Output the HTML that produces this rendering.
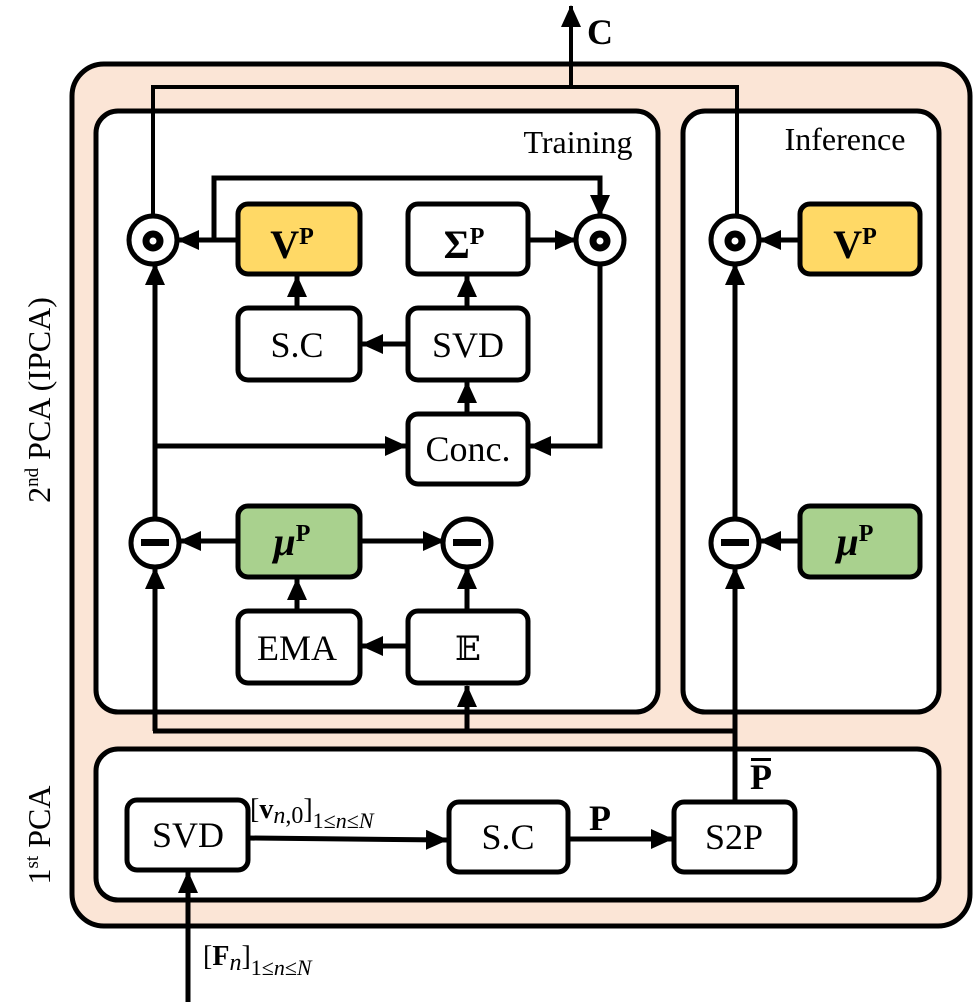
<!DOCTYPE html>
<html><head><meta charset="utf-8"><style>body{margin:0;background:#fff}svg{display:block}</style></head><body>
<svg width="975" height="1002" viewBox="0 0 975 1002" xmlns="http://www.w3.org/2000/svg" font-family="Liberation Serif, serif">
<defs>
<marker id="a" markerWidth="22" markerHeight="20" refX="21" refY="10" orient="auto" markerUnits="userSpaceOnUse" viewBox="0 0 22 20"><path d="M0,0 L22,10 L0,20 z" fill="#000"/></marker>
</defs>
<rect x="72" y="64" width="898" height="862" rx="32" fill="#fbe5d6" stroke="#000" stroke-width="5"/>
<rect x="96" y="111" width="562" height="601" rx="22" fill="#fff" stroke="#000" stroke-width="5"/>
<rect x="683" y="111" width="256" height="601" rx="22" fill="#fff" stroke="#000" stroke-width="5"/>
<rect x="96" y="749" width="843" height="151" rx="22" fill="#fff" stroke="#000" stroke-width="5"/>
<text x="578" y="153" font-size="32" text-anchor="middle">Training</text>
<text x="845" y="150" font-size="32" text-anchor="middle">Inference</text>
<text transform="translate(50,400) rotate(-90)" font-size="32" text-anchor="middle">2<tspan font-size="19" dy="-12">nd</tspan><tspan dy="12"> PCA (IPCA)</tspan></text>
<text transform="translate(50,835) rotate(-90)" font-size="32" text-anchor="middle">1<tspan font-size="19" dy="-12">st</tspan><tspan dy="12"> PCA</tspan></text>
<g fill="none" stroke="#000">
<polyline points="153,218 153,87 737,87 737,218" stroke-width="4"/>
<line x1="571" y1="87" x2="571" y2="6" stroke-width="4" marker-end="url(#a)"/>
<g stroke-width="5">
<line x1="238" y1="240" x2="178" y2="240" marker-end="url(#a)"/>
<polyline points="214,240 214,178 600,178 600,216" marker-end="url(#a)"/>
<line x1="528" y1="240" x2="576" y2="240" marker-end="url(#a)"/>
<polyline points="600,262 600,446 530,446" marker-end="url(#a)"/>
<line x1="155" y1="520" x2="155" y2="264" marker-end="url(#a)"/>
<line x1="155" y1="446" x2="406" y2="446" marker-end="url(#a)"/>
<line x1="297" y1="307" x2="297" y2="276" marker-end="url(#a)"/>
<line x1="408" y1="344" x2="362" y2="344" marker-end="url(#a)"/>
<line x1="467" y1="307" x2="467" y2="276" marker-end="url(#a)"/>
<line x1="467" y1="413" x2="467" y2="382" marker-end="url(#a)"/>
<line x1="238" y1="541" x2="180" y2="541" marker-end="url(#a)"/>
<line x1="360" y1="541" x2="444" y2="541" marker-end="url(#a)"/>
<line x1="297" y1="610" x2="297" y2="579" marker-end="url(#a)"/>
<line x1="408" y1="646" x2="362" y2="646" marker-end="url(#a)"/>
<line x1="467" y1="610" x2="467" y2="568" marker-end="url(#a)"/>
<polyline points="155,731 155,568" marker-end="url(#a)"/>
<line x1="153" y1="731" x2="737" y2="731"/>
<line x1="467" y1="731" x2="467" y2="686" marker-end="url(#a)"/>
<line x1="735" y1="802" x2="735" y2="568" marker-end="url(#a)"/>
<line x1="735" y1="520" x2="735" y2="264" marker-end="url(#a)"/>
<line x1="800" y1="240" x2="760" y2="240" marker-end="url(#a)"/>
<line x1="800" y1="541" x2="760" y2="541" marker-end="url(#a)"/>
<line x1="248" y1="838" x2="447" y2="840" marker-end="url(#a)"/>
<line x1="568" y1="839" x2="672" y2="839" marker-end="url(#a)"/>
<line x1="188" y1="1002" x2="188" y2="872" marker-end="url(#a)"/>
</g>
<g stroke-width="5">
<rect x="238" y="204" width="122" height="70" rx="10" fill="#ffd966"/>
<rect x="408" y="204" width="120" height="70" rx="10" fill="#fff"/>
<rect x="238" y="308" width="122" height="72" rx="10" fill="#fff"/>
<rect x="408" y="308" width="120" height="72" rx="10" fill="#fff"/>
<rect x="408" y="414" width="120" height="70" rx="10" fill="#fff"/>
<rect x="238" y="506" width="122" height="71" rx="10" fill="#a9d18e"/>
<rect x="238" y="611" width="122" height="72" rx="10" fill="#fff"/>
<rect x="408" y="611" width="120" height="72" rx="10" fill="#fff"/>
<rect x="800" y="204" width="120" height="70" rx="10" fill="#ffd966"/>
<rect x="800" y="506" width="120" height="71" rx="10" fill="#a9d18e"/>
<rect x="127" y="800" width="121" height="70" rx="10" fill="#fff"/>
<rect x="449" y="802" width="119" height="70" rx="10" fill="#fff"/>
<rect x="674" y="802" width="121" height="70" rx="10" fill="#fff"/>
<circle cx="153" cy="240" r="24" fill="#fff"/>
<circle cx="600" cy="240" r="24" fill="#fff"/>
<circle cx="735" cy="240" r="24" fill="#fff"/>
<circle cx="153" cy="241" r="7" fill="#fff" stroke-width="7"/>
<circle cx="600" cy="241" r="7" fill="#fff" stroke-width="7"/>
<circle cx="735" cy="241" r="7" fill="#fff" stroke-width="7"/>
<circle cx="155" cy="543" r="24" fill="#fff"/>
<circle cx="467" cy="543" r="24" fill="#fff"/>
<circle cx="735" cy="543" r="24" fill="#fff"/>
</g>
</g>
<g fill="#000">
<rect x="141" y="539" width="28" height="7"/>
<rect x="453" y="539" width="28" height="7"/>
<rect x="721" y="539" width="28" height="7"/>
</g>
<g font-size="36" text-anchor="middle">
<text x="292" y="258" font-weight="bold" font-size="40">V<tspan font-size="24" dy="-14">P</tspan></text>
<text x="464" y="258" font-weight="bold" font-size="40">Σ<tspan font-size="24" dy="-14">P</tspan></text>
<text x="855" y="258" font-weight="bold" font-size="40">V<tspan font-size="24" dy="-14">P</tspan></text>
<text x="297" y="357">S.C</text>
<text x="468" y="357">SVD</text>
<text x="468" y="461">Conc.</text>
<text x="292" y="555" font-weight="bold" font-style="italic" font-size="40">μ<tspan font-size="24" dy="-14" font-style="normal">P</tspan></text>
<text x="855" y="555" font-weight="bold" font-style="italic" font-size="40">μ<tspan font-size="24" dy="-14" font-style="normal">P</tspan></text>
<text x="297" y="660">EMA</text>
<text x="468" y="660" font-family="DejaVu Serif, DejaVu Sans, serif" font-size="34">𝔼</text>
<text x="188" y="847">SVD</text>
<text x="508" y="849">S.C</text>
<text x="734" y="849">S2P</text>
<text x="600" y="44" font-weight="bold" font-size="36">C</text>
<text x="600" y="830" font-weight="bold" font-size="36">P</text>
<text x="761" y="789" font-weight="bold" font-size="36">P</text>
</g>
<rect x="751" y="758" width="20" height="3" fill="#000"/>
<text x="250" y="818" font-size="28">[<tspan font-weight="bold">v</tspan><tspan font-style="italic" font-size="24" dy="5">n</tspan><tspan font-size="24">,0</tspan><tspan dy="-5">]</tspan><tspan font-size="22" dy="10">1≤<tspan font-style="italic">n</tspan>≤<tspan font-style="italic">N</tspan></tspan></text>
<text x="203" y="965" font-size="28">[<tspan font-weight="bold">F</tspan><tspan font-style="italic" font-size="24" dy="5">n</tspan><tspan dy="-5">]</tspan><tspan font-size="22" dy="10">1≤<tspan font-style="italic">n</tspan>≤<tspan font-style="italic">N</tspan></tspan></text>
</svg>
</body></html>
